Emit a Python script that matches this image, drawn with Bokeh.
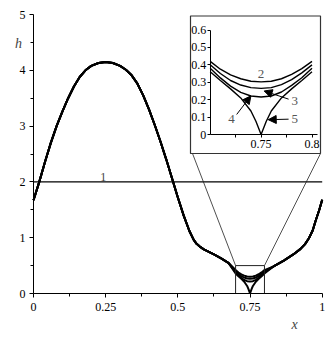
from bokeh.plotting import figure
from bokeh.models import Range1d, LinearAxis, FixedTicker, Label, Arrow, NormalHead
from bokeh.embed import file_html
from bokeh.resources import INLINE

# ---------------- data ----------------
# common part of curves 2-5 (they coincide outside the zoom window)
x_left = [0.0, 0.02, 0.04, 0.06, 0.08, 0.10, 0.12, 0.14, 0.16, 0.18, 0.20, 0.225, 0.25,
          0.275, 0.30, 0.32, 0.34, 0.36, 0.38, 0.40, 0.42, 0.44, 0.46, 0.48, 0.50, 0.52,
          0.54, 0.555, 0.565, 0.575, 0.59, 0.625, 0.65, 0.675]
h_left = [1.67, 2.0, 2.36, 2.7, 3.0, 3.26, 3.5, 3.71, 3.88, 4.0, 4.08, 4.13, 4.15,
          4.13, 4.08, 4.01, 3.91, 3.76, 3.55, 3.30, 3.02, 2.72, 2.40, 2.06, 1.72, 1.40,
          1.12, 0.96, 0.89, 0.845, 0.79, 0.70, 0.63, 0.55]
x_right = [0.83, 0.867, 0.90, 0.925, 0.94, 0.954, 0.967, 0.977, 0.99, 1.0]
h_right = [0.48, 0.59, 0.70, 0.80, 0.88, 0.99, 1.13, 1.30, 1.50, 1.68]

# zoom window (curves differ)
x_in = [0.70, 0.71, 0.72, 0.73, 0.74, 0.75, 0.76, 0.77, 0.78, 0.79, 0.80]
h2_in = [0.42, 0.375, 0.342, 0.32, 0.306, 0.302, 0.306, 0.32, 0.345, 0.378, 0.42]
h3_in = [0.40, 0.35, 0.31, 0.284, 0.269, 0.265, 0.269, 0.286, 0.315, 0.354, 0.40]
h4_in = [0.38, 0.325, 0.278, 0.242, 0.221, 0.215, 0.221, 0.244, 0.282, 0.326, 0.38]
x5_in = [0.70, 0.71, 0.72, 0.73, 0.74, 0.745, 0.75, 0.755, 0.76, 0.77, 0.78, 0.79, 0.80]
h5_in = [0.36, 0.31, 0.262, 0.21, 0.135, 0.075, 0.0, 0.075, 0.135, 0.21, 0.262, 0.31, 0.36]

curve1_level = 2.0

x_ticks = [0, 0.25, 0.5, 0.75, 1]
x_tick_labels = ["0", "0.25", "0.5", "0.75", "1"]
x_minor = [0.125, 0.375, 0.625, 0.875]
y_ticks = [0, 1, 2, 3, 4, 5]
y_tick_labels = ["0", "1", "2", "3", "4", "5"]
y_minor = [0.5, 1.5, 2.5, 3.5, 4.5]

in_x_ticks = [0.75, 0.8]
in_x_tick_labels = ["0.75", "0.8"]
in_x_minor = [0.725, 0.775]
in_y_ticks = [0, 0.1, 0.2, 0.3, 0.4, 0.5, 0.6]
in_y_tick_labels = ["0", "0.1", "0.2", "0.3", "0.4", "0.5", "0.6"]

zoom_box = (0.7, 0.8, 0.0, 0.5)  # x0, x1, h0, h1 of the zoomed window

# ---------------- layout (pixels in the figure) ----------------
W, H = 332, 339
X0_PX, X1_PX = 33.0, 321.7     # x = 0 and x = 1
Y0_PX, Y5_PX = 293.0, 14.0     # h = 0 and h = 5
sx = (X1_PX - X0_PX) / 1.0
sy = (Y0_PX - Y5_PX) / 5.0
XR = (-X0_PX / sx, (W - X0_PX) / sx)
YR = (-(H - Y0_PX) / sy, Y0_PX / sy)

def px_to_main(px, py):
    return ((px - X0_PX) / sx, (Y0_PX - py) / sy)

# inset plot area
IN_L, IN_R = 209.7, 311.5   # x=0.7 .. x=0.8
IN_B, IN_T = 134.0, 29.5    # y=0 .. y=0.6
isx = (IN_R - IN_L) / 0.1
isy = (IN_B - IN_T) / 0.6
IXR = (0.7 - IN_L / isx, 0.7 + (W - IN_L) / isx)
IYR = (-(H - IN_B) / isy, IN_B / isy)

def px_to_inset(px, py):
    return (0.7 + (px - IN_L) / isx, (IN_B - py) / isy)

BOX_L, BOX_R, BOX_T, BOX_B = 190.0, 320.0, 15.5, 153.0

SERIF = "Liberation Serif"

p = figure(width=W, height=H, x_range=Range1d(*XR), y_range=Range1d(*YR),
           output_backend="svg", toolbar_location=None, min_border=0)
p.outline_line_color = None
p.xgrid.visible = False
p.ygrid.visible = False
p.extra_x_ranges = {"ix": Range1d(*IXR)}
p.extra_y_ranges = {"iy": Range1d(*IYR)}

def style_axis(ax, size="12px", standoff=2):
    ax.axis_line_color = "black"
    ax.axis_line_width = 1
    ax.major_tick_line_color = "black"
    ax.minor_tick_line_color = "black"
    ax.major_tick_in = 0
    ax.major_tick_out = 4
    ax.minor_tick_in = 0
    ax.minor_tick_out = 3
    ax.major_label_text_font = SERIF
    ax.major_label_text_font_size = size
    ax.major_label_text_color = "black"
    ax.major_label_standoff = standoff

xa = p.xaxis[0]
xa.fixed_location = 0
xa.bounds = (x_ticks[0], x_ticks[-1])
xa.ticker = FixedTicker(ticks=x_ticks, minor_ticks=x_minor)
xa.major_label_overrides = dict(zip(x_ticks, x_tick_labels))
style_axis(xa, standoff=5)
ya = p.yaxis[0]
ya.fixed_location = 0
ya.bounds = (y_ticks[0], y_ticks[-1])
ya.ticker = FixedTicker(ticks=y_ticks, minor_ticks=y_minor)
ya.major_label_overrides = dict(zip(y_ticks, y_tick_labels))
style_axis(ya, standoff=4)

# curve 1
p.line(x=[x_ticks[0], x_ticks[-1]], y=[curve1_level, curve1_level], line_color="black", line_width=1.3)
p.add_layout(Label(x=0.242, y=curve1_level, text="1", text_font=SERIF, text_font_size="12px",
                   text_color="#444444", text_align="center", text_baseline="bottom", y_offset=1))

# curves 2-5 in main plot
for hin, xin in ((h2_in, x_in), (h3_in, x_in), (h4_in, x_in), (h5_in, x5_in)):
    xs = x_left + xin + x_right
    hs = h_left + hin + h_right
    p.line(x=xs, y=hs, line_color="black", line_width=2.0)

# zoom window rectangle
zx0, zx1, zh0, zh1 = zoom_box
p.quad(left=[zx0], right=[zx1], bottom=[zh0], top=[zh1], fill_color=None,
       line_color="#222222", line_width=1)

# connecting lines to the inset frame
blx, bly = px_to_main(BOX_L + 2, BOX_B)
brx, bry = px_to_main(BOX_R, BOX_B)
p.segment(x0=[zx0, zx1], y0=[zh1, zh1], x1=[blx, brx], y1=[bly, bry],
          line_color="#222222", line_width=0.8)

# inset frame box
bx0, by0 = px_to_inset(BOX_L, BOX_B)
bx1, by1 = px_to_inset(BOX_R, BOX_T)
p.quad(left=[bx0], right=[bx1], bottom=[by0], top=[by1], fill_color="white",
       line_color="#333333", line_width=1.2, x_range_name="ix", y_range_name="iy")

# inset curves
for hin, xin in ((h2_in, x_in), (h3_in, x_in), (h4_in, x_in), (h5_in, x5_in)):
    p.line(x=xin, y=hin, line_color="black", line_width=1.4, x_range_name="ix", y_range_name="iy")

# inset axes
iyax = LinearAxis(x_range_name="ix", y_range_name="iy", fixed_location=0.7,
                  bounds=(in_y_ticks[0], in_y_ticks[-1]),
                  ticker=FixedTicker(ticks=in_y_ticks),
                  major_label_overrides=dict(zip(in_y_ticks, in_y_tick_labels)))
style_axis(iyax, standoff=1)
iyax.major_tick_out = 3
p.add_layout(iyax, "left")

ixax = LinearAxis(x_range_name="ix", y_range_name="iy", fixed_location=0.0,
                  bounds=(0.7, 0.805),
                  ticker=FixedTicker(ticks=in_x_ticks, minor_ticks=in_x_minor),
                  major_label_overrides=dict(zip(in_x_ticks, in_x_tick_labels)))
style_axis(ixax)
ixax.major_tick_out = 3
p.add_layout(ixax, "below")

# inset labels and arrows
lab_kw = dict(x_range_name="ix", y_range_name="iy", text_font=SERIF, text_font_size="13px",
              text_color="#555555", text_align="center", text_baseline="middle")
p.add_layout(Label(x=0.75, y=0.35, text="2", **lab_kw))
p.add_layout(Label(x=0.783, y=0.195, text="3", **lab_kw))
p.add_layout(Label(x=0.721, y=0.09, text="4", **lab_kw))
p.add_layout(Label(x=0.783, y=0.09, text="5", **lab_kw))

arr_kw = dict(x_range_name="ix", y_range_name="iy", line_color="black", line_width=1)
def head():
    return NormalHead(size=8, fill_color="black", line_color="black")
p.add_layout(Arrow(x_start=0.777, y_start=0.203, x_end=0.753, y_end=0.25, end=head(), **arr_kw))
p.add_layout(Arrow(x_start=0.726, y_start=0.115, x_end=0.740, y_end=0.222, end=head(), **arr_kw))
p.add_layout(Arrow(x_start=0.777, y_start=0.088, x_end=0.757, y_end=0.085, end=head(), **arr_kw))

# axis titles
hx, hy = px_to_main(18, 43)
p.add_layout(Label(x=hx, y=hy, text="h", text_font=SERIF, text_font_style="italic",
                   text_font_size="14px", text_align="center", text_baseline="middle"))
xx, xy = px_to_main(294, 324)
p.add_layout(Label(x=xx, y=xy, text="x", text_font=SERIF, text_font_style="italic",
                   text_font_size="14px", text_align="center", text_baseline="middle"))

open("out.html", "w").write(file_html(p, INLINE))
